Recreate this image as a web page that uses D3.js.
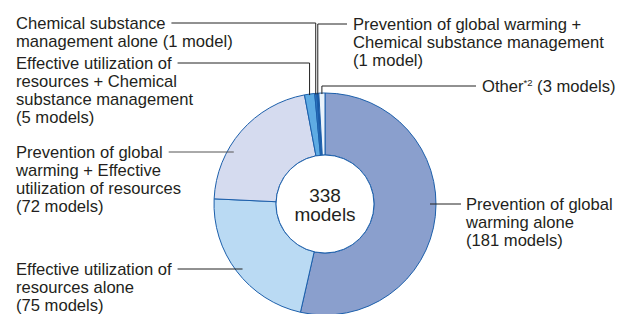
<html>
  <head>
    <script src="https://cdn.jsdelivr.net/npm/d3@7"></script>
    <meta charset="UTF-8">
    <style>
      body { margin: 0; background: #fff; }
      text { font-family: "Liberation Sans", Arial, sans-serif; fill: #231f20; }
    </style>
  </head>
  <body>
    <svg id="chart" width="627" height="314"></svg>
    <script>
      // data
      var categories = [
        "Prevention of global warming alone",
        "Effective utilization of resources alone",
        "Prevention of global warming + Effective utilization of resources",
        "Effective utilization of resources + Chemical substance management",
        "Chemical substance management alone",
        "Prevention of global warming + Chemical substance management",
        "Other"
      ];
      var values = [181, 75, 72, 5, 1, 1, 3];
      var colors = ["#8a9fcd", "#badaf3", "#d5dbef", "#5eabe3", "#2f78c2", "#1b58a3", "#eaf3fb"];
      var total = "338";
      var totalUnit = "models";

      // label lines per slice
      var labelLines = [
        ["Prevention of global", "warming alone", "(181 models)"],
        ["Effective utilization of", "resources alone", "(75 models)"],
        ["Prevention of global", "warming + Effective", "utilization of resources", "(72 models)"],
        ["Effective utilization of", "resources + Chemical", "substance management", "(5 models)"],
        ["Chemical substance", "management alone (1 model)"],
        ["Prevention of global warming +", "Chemical substance management", "(1 model)"],
        ["Other", "(3 models)"]
      ];

      var svg = d3.select("#chart");
      var cx = 325, cy = 204, rOut = 111, rIn = 49;
      var lh = 18.2;

      var pie = d3.pie().sort(null).value(function(d){ return d; });
      var arcs = pie(values);
      var arc = d3.arc().innerRadius(rIn).outerRadius(rOut);

      var g = svg.append("g").attr("transform", "translate(" + cx + "," + cy + ")");
      g.selectAll("path")
        .data(arcs)
        .enter()
        .append("path")
        .attr("d", arc)
        .attr("fill", function(d, i){ return colors[i]; })
        .attr("stroke", "#1c5fab")
        .attr("stroke-width", 1);

      g.append("circle").attr("r", rIn).attr("fill", "#fff").attr("stroke", "#1c5fab").attr("stroke-width", 1);
      g.append("text").attr("text-anchor", "middle").attr("y", -2).attr("font-size", 19).text(total);
      g.append("text").attr("text-anchor", "middle").attr("y", 17).attr("font-size", 19).text(totalUnit);

      // label placement: [text x, first line center y]
      var place = [
        [466, 204],
        [16, 269],
        [16, 152],
        [16, 63],
        [16, 23],
        [353, 24],
        [482, 86]
      ];

      function midX(d, r) { return Math.sin((d.startAngle + d.endAngle) / 2) * r; }

      var labels = svg.append("g");
      arcs.forEach(function(d, i) {
        var p = place[i];
        var t = labels.append("text").attr("font-size", 16.6).attr("x", p[0]);
        if (i === 6) {
          t.attr("y", p[1]).attr("dy", "0.35em");
          t.append("tspan").text("Other");
          t.append("tspan").attr("font-size", 9.5).attr("dy", "-0.6em").text("*2");
          t.append("tspan").attr("dy", "0.37em").text(" (3 models)");
        } else {
          labelLines[i].forEach(function(s, j) {
            t.append("tspan").attr("x", p[0]).attr("y", p[1] + j * lh).attr("dy", "0.35em").text(s);
          });
        }
        var ly = p[1];
        var pts;
        if (i === 0 || i === 1 || i === 2) {
          var r = 105, dy = ly - cy;
          var ex = Math.sqrt(r * r - dy * dy);
          if (i === 0) pts = [[cx + ex, ly], [p[0] - 5, ly]];
          else {
            var firstW = t.select("tspan").node().getComputedTextLength();
            pts = [[p[0] + firstW + 6, ly], [cx - ex, ly]];
          }
        } else {
          var mx = cx + midX(d, rOut);
          var endY = cy - Math.sqrt(rOut * rOut - (mx - cx) * (mx - cx)) + 1;
          var startX;
          if (i === 5 || i === 6) startX = p[0] - 6;
          else startX = p[0] + t.select("tspan").node().getComputedTextLength() + 6;
          pts = [[startX, ly], [mx, ly], [mx, endY]];
        }
        labels.append("path")
          .attr("d", d3.line()(pts))
          .attr("fill", "none")
          .attr("stroke", i === 2 ? "#555" : "#222")
          .attr("stroke-width", 1);
      });
    </script>
  </body>
</html>
